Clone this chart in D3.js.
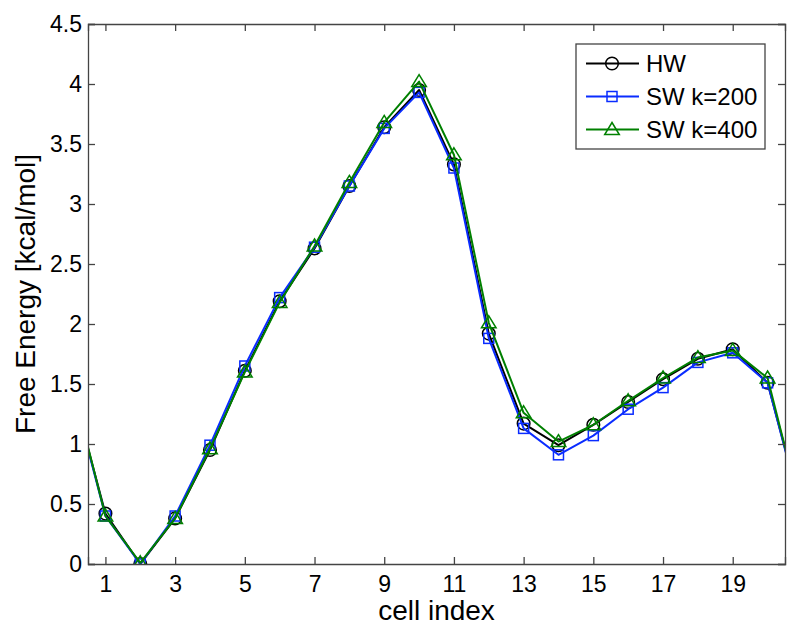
<!DOCTYPE html>
<html><head><meta charset="utf-8">
<script src="https://cdn.jsdelivr.net/npm/d3@7"></script>
<style>body{margin:0;background:#fff}svg{display:block;font-family:"Liberation Sans",Arial,Helvetica,sans-serif}</style>
</head><body>
<div id="chart"></div>
<script>
const cells = [1,2,3,4,5,6,7,8,9,10,11,12,13,14,15,16,17,18,19,20];
const hw    = [0.42,0.00,0.38,0.95,1.61,2.19,2.63,3.15,3.64,3.95,3.33,1.92,1.17,0.99,1.16,1.35,1.54,1.71,1.79,1.51];
const sw200 = [0.40,0.00,0.40,0.99,1.65,2.22,2.64,3.15,3.63,3.93,3.30,1.88,1.13,0.91,1.07,1.29,1.47,1.68,1.76,1.51];
const sw400 = [0.40,0.01,0.38,0.96,1.60,2.18,2.65,3.18,3.68,4.02,3.41,2.01,1.26,1.02,1.16,1.36,1.55,1.72,1.78,1.55];
const xTicks = [1,3,5,7,9,11,13,15,17,19];
const yTicks = [0,0.5,1,1.5,2,2.5,3,3.5,4,4.5];
const seriesNames = ["HW","SW k=200","SW k=400"];
const seriesColors = ["#000000","#0a2cff","#008000"];
const seriesMarkers = ["circle","square","triangle"];

const W=800,H=632;
const m={left:88,right:15,top:24,bottom:68};
const svg=d3.select("#chart").append("svg").attr("width",W).attr("height",H);
const x=d3.scaleLinear().domain([0.5,20.5]).range([m.left,W-m.right]);
const y=d3.scaleLinear().domain([0,4.5]).range([H-m.bottom,m.top]);
const axisColor="#444";

svg.append("defs").append("clipPath").attr("id","clip").append("rect")
  .attr("x",x(0.5)).attr("y",y(4.5)).attr("width",x(20.5)-x(0.5)).attr("height",y(0)-y(4.5));

const data=[hw,sw200,sw400];
const plot=svg.append("g").attr("clip-path","url(#clip)");
data.forEach((vals,i)=>{
  // periodic extension: cell 0 == cell 20, cell 21 == cell 1
  const pts=[[0,vals[vals.length-1]]].concat(cells.map((c,j)=>[c,vals[j]])).concat([[21,vals[0]]]);
  plot.append("path").datum(pts)
    .attr("fill","none").attr("stroke",seriesColors[i]).attr("stroke-width",2)
    .attr("stroke-linejoin","round")
    .attr("d",d3.line().x(d=>x(d[0])).y(d=>y(d[1])));
  const g=plot.append("g");
  cells.forEach((c,j)=>drawMarker(g,seriesMarkers[i],x(c),y(vals[j]),seriesColors[i]));
});

function drawMarker(g,type,cx,cy,color){
  if(type==="circle"){
    g.append("circle").attr("cx",cx).attr("cy",cy).attr("r",6.3)
     .attr("fill","none").attr("stroke",color).attr("stroke-width",1.5);
  } else if(type==="square"){
    g.append("rect").attr("x",cx-5).attr("y",cy-5).attr("width",10).attr("height",10)
     .attr("fill","none").attr("stroke",color).attr("stroke-width",1.5);
  } else {
    g.append("path").attr("d",`M${cx},${cy-7}L${cx+7.3},${cy+5}L${cx-7.3},${cy+5}Z`)
     .attr("fill","none").attr("stroke",color).attr("stroke-width",1.5);
  }
}

// axes box
const ax=svg.append("g");
const tl=7;
ax.append("g").attr("transform",`translate(0,${y(0)})`)
  .call(d3.axisBottom(x).tickValues(xTicks).tickSize(-tl).tickPadding(11.5).tickFormat(d3.format("d")));
ax.append("g").attr("transform",`translate(0,${y(4.5)})`)
  .call(d3.axisTop(x).tickValues(xTicks).tickSize(-tl).tickFormat(""));
ax.append("g").attr("transform",`translate(${x(0.5)},0)`)
  .call(d3.axisLeft(y).tickValues(yTicks).tickSize(-tl).tickPadding(6).tickFormat(d=>d3.format("")(d)));
ax.append("g").attr("transform",`translate(${x(20.5)},0)`)
  .call(d3.axisRight(y).tickValues(yTicks).tickSize(-tl).tickFormat(""));
ax.selectAll(".domain").attr("stroke",axisColor).attr("stroke-width",1.3);
ax.selectAll(".tick line").attr("stroke",axisColor).attr("stroke-width",1.3);
ax.selectAll(".tick text").attr("fill","#000").style("font-size","23px").style("font-family",'"Liberation Sans",Arial,sans-serif');

svg.append("text").attr("x",(x(0.5)+x(20.5))/2).attr("y",620).attr("text-anchor","middle")
  .style("font-size","28px").text("cell index");
svg.append("text").attr("transform",`translate(35,${(y(0)+y(4.5))/2}) rotate(-90)`).attr("text-anchor","middle")
  .style("font-size","28px").text("Free Energy [kcal/mol]");

// legend
const lg=svg.append("g");
lg.append("rect").attr("x",576).attr("y",44).attr("width",189).attr("height",105)
  .attr("fill","#fff").attr("stroke",axisColor).attr("stroke-width",1.3);
seriesNames.forEach((n,i)=>{
  const yy=63.5+i*33;
  lg.append("line").attr("x1",586).attr("x2",639).attr("y1",yy).attr("y2",yy)
    .attr("stroke",seriesColors[i]).attr("stroke-width",2);
  drawMarker(lg,seriesMarkers[i],612,yy,seriesColors[i]);
  lg.append("text").attr("x",646).attr("y",yy+8.5).style("font-size","24px").text(n);
});
</script>
</body></html>
